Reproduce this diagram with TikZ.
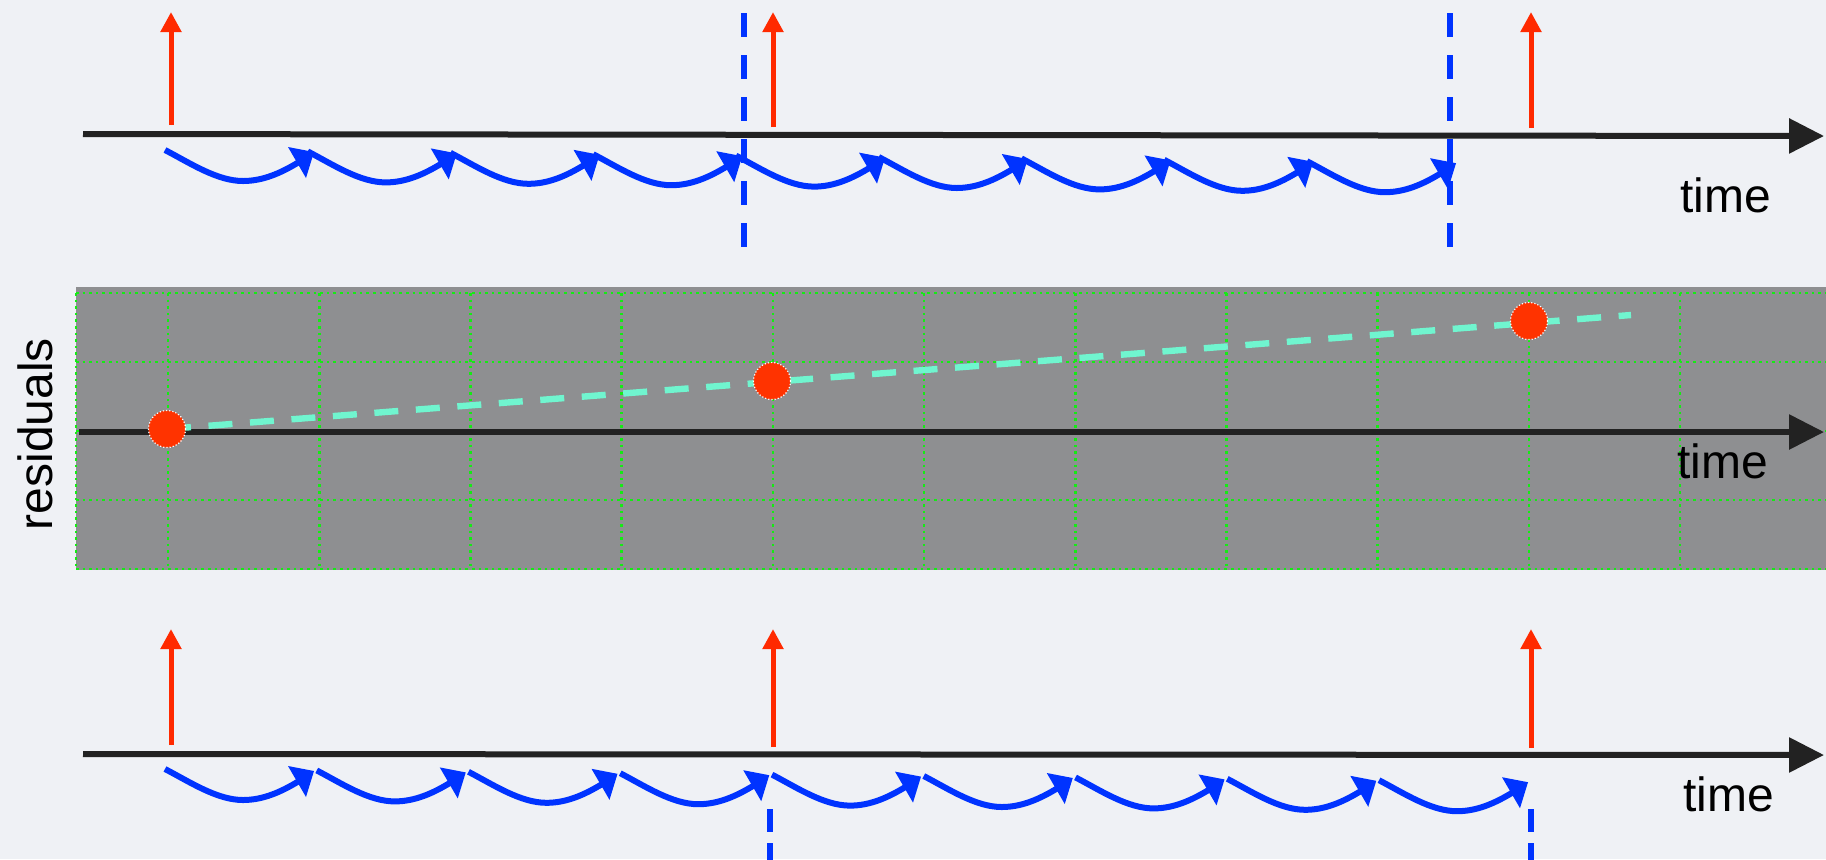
\documentclass[tikz,border=0pt]{standalone}
\usepackage{fontspec}
\setmainfont{Liberation Sans}
\usetikzlibrary{arrows.meta}
\definecolor{bgc}{RGB}{239,241,245}
\definecolor{axisc}{RGB}{34,34,34}
\definecolor{redc}{RGB}{255,42,0}
\definecolor{dotc}{RGB}{255,51,0}
\definecolor{bluec}{RGB}{0,51,255}
\definecolor{panelc}{RGB}{142,143,145}
\definecolor{gridc}{RGB}{20,235,20}
\definecolor{cyanc}{RGB}{112,245,207}
\begin{document}
\begin{tikzpicture}[x=0.5pt,y=-0.5pt,
 axisline/.style={draw=axisc,line width=3pt,-{Triangle[length=17.5pt,width=17pt]}},
 redarrow/.style={draw=redc,fill=redc,line width=2.5pt,-{Triangle[length=10pt,width=10pt]}},
 wavecurve/.style={draw=bluec,line width=3pt},
 wavehead/.style={fill=bluec},
 bluedash/.style={draw=bluec,line width=2.8pt,dash pattern=on 12pt off 9pt},
 bluedashb/.style={draw=bluec,line width=2.8pt,dash pattern=on 11.5pt off 5.5pt},
 gridline/.style={draw=gridc,line width=1.3pt,dotted},
 trend/.style={draw=cyanc,line width=3.2pt,dash pattern=on 12pt off 8.8pt},
 resid/.style={circle,fill=dotc,draw=white,densely dotted,line width=0.6pt,minimum size=18.5pt,inner sep=0pt},
 lbl/.style={font=\fontsize{24}{28}\selectfont,inner sep=0pt,text=black},
 wave/.pic={
   \path[wavecurve] (0,0) .. controls (25,13) and (52,31) .. (78,31) .. controls (98,31) and (116,23) .. (134,12);
   \path[wavehead] (123,-3) -- (149,2) -- (141,28) -- cycle;}
]
\useasboundingbox (0,0) rectangle (1826,859);
\fill[bgc] (0,0) rectangle (1826,859);
\clip (0,0) rectangle (1826,859);

% ---------- top panel ----------
\coordinate (ta0) at (83,134);
\coordinate (ta1) at (1824,136);
\draw[axisline] (ta0) -- (ta1);
\foreach \x/\b [count=\n] in {171/125,773/127,1531/128}{
  \coordinate (tr\n b) at (\x,\b);
  \coordinate (tr\n t) at (\x,12);
  \draw[redarrow] (tr\n b) -- (tr\n t);
}
\foreach \x [count=\n] in {744,1450}{
  \coordinate (tv\n a) at (\x,13);
  \coordinate (tv\n b) at (\x,250);
  \draw[bluedash] (tv\n a) -- (tv\n b);
}
\foreach \i in {0,...,8}
  \pic at ({165+142.75*\i},{150+1.4*\i}) {wave};
\node[lbl,anchor=base west] (time1) at (1680,212) {time};

% ---------- middle panel ----------
\fill[panelc] (76,287) rectangle (1826,570);
\foreach \y in {293,362,431,500,569}
  \draw[gridline] (76,\y) -- (1826,\y);
\draw[gridline] (76,293) -- (76,569);
\foreach \k in {0,...,10}
  \draw[gridline] ({168+151.2*\k},293) -- ({168+151.2*\k},569);
\coordinate (ma0) at (79,432);
\coordinate (ma1) at (1824,432);
\draw[axisline] (ma0) -- (ma1);
\coordinate (trendEnd) at (1631,315);
\coordinate (trendStart) at (167,429);
\draw[trend] (trendStart) -- (trendEnd);
\node[resid] (d1) at (167,429) {};
\node[resid] (d2) at (772,381) {};
\node[resid] (d3) at (1529,321) {};
\node[lbl,anchor=base west] (time2) at (1677,478) {time};
\node[lbl,anchor=base,rotate=90] (res) at (53,434) {residuals};

% ---------- bottom panel ----------
\coordinate (ba0) at (83,754);
\coordinate (ba1) at (1824,755);
\draw[axisline] (ba0) -- (ba1);
\foreach \x/\b [count=\n] in {171/745,773/747,1531/748}{
  \coordinate (br\n b) at (\x,\b);
  \coordinate (br\n t) at (\x,629);
  \draw[redarrow] (br\n b) -- (br\n t);
}
\foreach \x [count=\n] in {770,1531}{
  \coordinate (bv\n a) at (\x,809);
  \coordinate (bv\n b) at (\x,880);
  \draw[bluedashb] (bv\n a) -- (bv\n b);
}
\foreach \i in {0,...,8}
  \pic at ({165+151.75*\i},{769+1.4*\i}) {wave};
\node[lbl,anchor=base west] (time3) at (1683,811) {time};
\end{tikzpicture}
\end{document}
